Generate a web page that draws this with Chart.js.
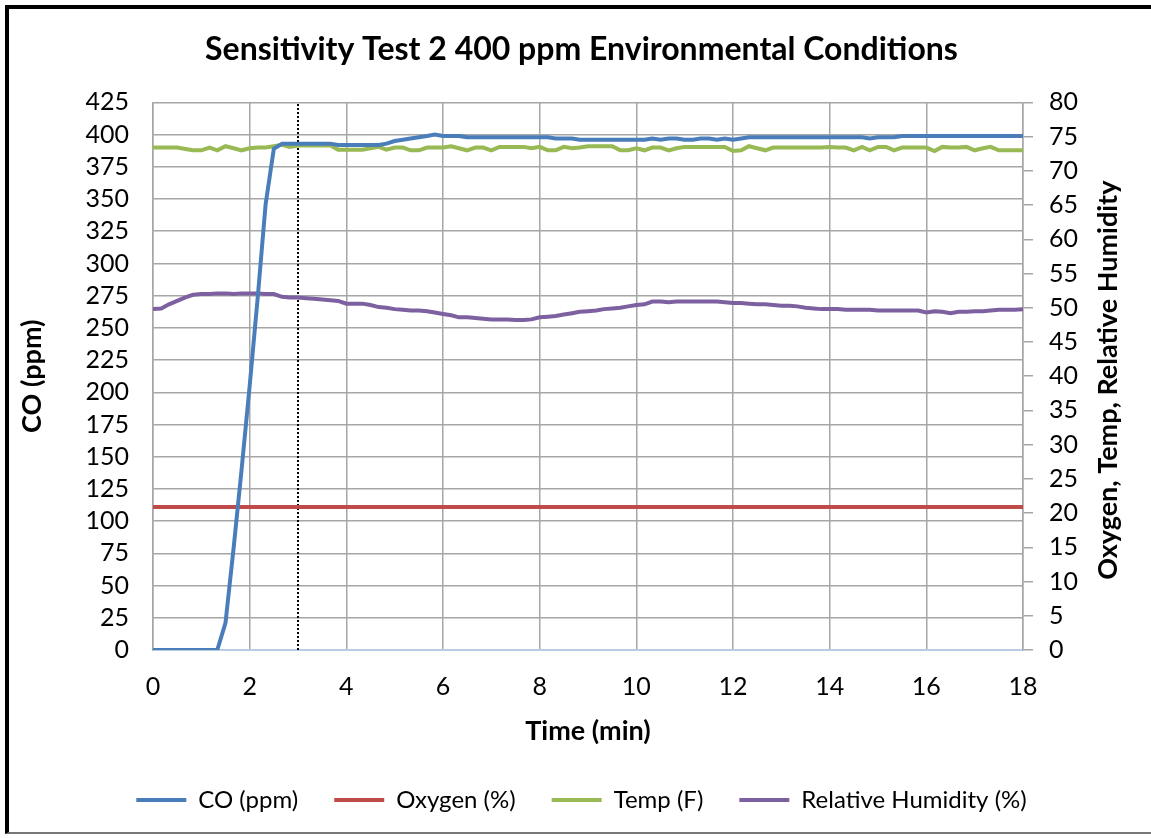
<!DOCTYPE html>
<html>
<head>
<meta charset="utf-8">
<script src="https://cdn.jsdelivr.net/npm/chart.js@4.4.1/dist/chart.umd.min.js"></script>
<style>
  html, body { margin: 0; padding: 0; background: #fff; }
  #wrap { position: absolute; left: 0; top: 0; width: 1151px; height: 838px; }
  #frame { position: absolute; left: 5px; top: 5px; width: 1146px; height: 829px;
           border-left: 4px solid #000; border-top: 4px solid #000; border-bottom: 2px solid #777;
           box-sizing: border-box; pointer-events: none; }
</style>
</head>
<body>
<div id="wrap"><canvas id="my-canvas" width="1151" height="838"></canvas></div>
<div id="frame"></div>
<script>
// time in minutes, one reading every 10 s
const timeMin = [
  0, 0.17, 0.33, 0.5, 0.67, 0.83,
  1, 1.17, 1.33, 1.5, 1.67, 1.83,
  2, 2.17, 2.33, 2.5, 2.67, 2.83,
  3, 3.17, 3.33, 3.5, 3.67, 3.83,
  4, 4.17, 4.33, 4.5, 4.67, 4.83,
  5, 5.17, 5.33, 5.5, 5.67, 5.83,
  6, 6.17, 6.33, 6.5, 6.67, 6.83,
  7, 7.17, 7.33, 7.5, 7.67, 7.83,
  8, 8.17, 8.33, 8.5, 8.67, 8.83,
  9, 9.17, 9.33, 9.5, 9.67, 9.83,
  10, 10.17, 10.33, 10.5, 10.67, 10.83,
  11, 11.17, 11.33, 11.5, 11.67, 11.83,
  12, 12.17, 12.33, 12.5, 12.67, 12.83,
  13, 13.17, 13.33, 13.5, 13.67, 13.83,
  14, 14.17, 14.33, 14.5, 14.67, 14.83,
  15, 15.17, 15.33, 15.5, 15.67, 15.83,
  16, 16.17, 16.33, 16.5, 16.67, 16.83,
  17, 17.17, 17.33, 17.5, 17.67, 17.83,
  18
]

// CO (ppm) - left axis
const coPpm = [
  0, 0, 0, 0, 0, 0,
  0, 0, 0, 21, 80, 139,
  205, 275, 346, 389, 393, 393,
  393, 393, 393, 393, 393, 392,
  392, 392, 392, 392, 392, 393,
  395, 396, 397, 398, 399, 400,
  399, 399, 399, 398, 398, 398,
  398, 398, 398, 398, 398, 398,
  398, 398, 397, 397, 397, 396,
  396, 396, 396, 396, 396, 396,
  396, 396, 397, 396, 397, 397,
  396, 396, 397, 397, 396, 397,
  396, 397, 398, 398, 398, 398,
  398, 398, 398, 398, 398, 398,
  398, 398, 398, 398, 398, 397,
  398, 398, 398, 399, 399, 399,
  399, 399, 399, 399, 399, 399,
  399, 399, 399, 399, 399, 399,
  399
]

// Oxygen (%) - right axis
const oxygenPct = [
  20.9, 20.9, 20.9, 20.9, 20.9, 20.9,
  20.9, 20.9, 20.9, 20.9, 20.9, 20.9,
  20.9, 20.9, 20.9, 20.9, 20.9, 20.9,
  20.9, 20.9, 20.9, 20.9, 20.9, 20.9,
  20.9, 20.9, 20.9, 20.9, 20.9, 20.9,
  20.9, 20.9, 20.9, 20.9, 20.9, 20.9,
  20.9, 20.9, 20.9, 20.9, 20.9, 20.9,
  20.9, 20.9, 20.9, 20.9, 20.9, 20.9,
  20.9, 20.9, 20.9, 20.9, 20.9, 20.9,
  20.9, 20.9, 20.9, 20.9, 20.9, 20.9,
  20.9, 20.9, 20.9, 20.9, 20.9, 20.9,
  20.9, 20.9, 20.9, 20.9, 20.9, 20.9,
  20.9, 20.9, 20.9, 20.9, 20.9, 20.9,
  20.9, 20.9, 20.9, 20.9, 20.9, 20.9,
  20.9, 20.9, 20.9, 20.9, 20.9, 20.9,
  20.9, 20.9, 20.9, 20.9, 20.9, 20.9,
  20.9, 20.9, 20.9, 20.9, 20.9, 20.9,
  20.9, 20.9, 20.9, 20.9, 20.9, 20.9,
  20.9
]

// Temp (F) - right axis
const tempF = [
  73.4, 73.4, 73.4, 73.4, 73.2, 73.0,
  73.0, 73.4, 73.0, 73.6, 73.3, 73.0,
  73.3, 73.4, 73.4, 73.6, 73.8, 73.5,
  73.7, 73.7, 73.7, 73.7, 73.7, 73.1,
  73.1, 73.1, 73.1, 73.3, 73.5, 73.1,
  73.4, 73.4, 73.0, 73.0, 73.4, 73.4,
  73.4, 73.6, 73.3, 73.0, 73.4, 73.4,
  73.0, 73.5, 73.5, 73.5, 73.5, 73.3,
  73.5, 73.0, 73.0, 73.5, 73.3, 73.4,
  73.6, 73.6, 73.6, 73.6, 73.0, 73.0,
  73.3, 73.0, 73.4, 73.4, 73.0, 73.3,
  73.5, 73.5, 73.5, 73.5, 73.5, 73.5,
  72.9, 73.0, 73.6, 73.3, 73.0, 73.4,
  73.4, 73.4, 73.4, 73.4, 73.4, 73.4,
  73.5, 73.4, 73.4, 73.0, 73.5, 73.0,
  73.5, 73.5, 73.0, 73.4, 73.4, 73.4,
  73.4, 72.9, 73.5, 73.4, 73.4, 73.5,
  73.0, 73.3, 73.5, 73.0, 73.0, 73.0,
  73.0
]

// Relative Humidity (%) - right axis
const humidityPct = [
  49.8, 49.9, 50.5, 51.0, 51.5, 51.9,
  52.0, 52.0, 52.1, 52.1, 52.0, 52.1,
  52.1, 52.1, 52.0, 52.0, 51.6, 51.5,
  51.5, 51.4, 51.3, 51.2, 51.1, 51.0,
  50.6, 50.6, 50.6, 50.4, 50.1, 50.0,
  49.8, 49.7, 49.6, 49.6, 49.5, 49.3,
  49.1, 48.9, 48.6, 48.6, 48.5, 48.4,
  48.3, 48.3, 48.3, 48.2, 48.2, 48.3,
  48.6, 48.7, 48.8, 49.0, 49.2, 49.4,
  49.5, 49.6, 49.8, 49.9, 50.0, 50.2,
  50.4, 50.5, 50.9, 50.9, 50.8, 50.9,
  50.9, 50.9, 50.9, 50.9, 50.9, 50.8,
  50.7, 50.7, 50.6, 50.5, 50.5, 50.4,
  50.3, 50.3, 50.2, 50.0, 49.9, 49.8,
  49.8, 49.8, 49.7, 49.7, 49.7, 49.7,
  49.6, 49.6, 49.6, 49.6, 49.6, 49.6,
  49.3, 49.5, 49.4, 49.2, 49.4, 49.4,
  49.5, 49.5, 49.6, 49.7, 49.7, 49.7,
  49.8
]

// dotted marker at 3 min
const markerTime = 3
const coRange = [0, 425]
const rightRange = [0, 80]

const FONT = 'Lato, "Noto Sans", sans-serif'

function toPoints(xs, ys){
  return xs.map((x, i) => ({x: x, y: ys[i]}))
}

// right axis title reads bottom to top
const rightTitle = {
  id: 'rightTitle',
  afterDraw(chart){
    const ctx = chart.ctx
    const area = chart.chartArea
    ctx.save()
    ctx.translate(1108, (area.top + area.bottom) / 2 + 4)
    ctx.rotate(-Math.PI / 2)
    ctx.font = 'bold 27px ' + FONT
    ctx.fillStyle = '#000'
    ctx.textAlign = 'center'
    ctx.textBaseline = 'middle'
    ctx.fillText('Oxygen, Temp, Relative Humidity', 0, 0)
    ctx.restore()
  }
}

const ctx = document.getElementById('my-canvas').getContext('2d')
const chart = new Chart(ctx, {
  type: 'line',
  data: {
    datasets: [
      { label: 'CO (ppm)', data: toPoints(timeMin, coPpm), yAxisID: 'y',
        borderColor: '#4a7ebb', backgroundColor: '#4a7ebb', borderWidth: 4 },
      { label: 'Oxygen (%)', data: toPoints(timeMin, oxygenPct), yAxisID: 'y2',
        borderColor: '#be4b48', backgroundColor: '#be4b48', borderWidth: 4 },
      { label: 'Temp (F)', data: toPoints(timeMin, tempF), yAxisID: 'y2',
        borderColor: '#98b954', backgroundColor: '#98b954', borderWidth: 4 },
      { label: 'Relative Humidity (%)', data: toPoints(timeMin, humidityPct), yAxisID: 'y2',
        borderColor: '#7d60a0', backgroundColor: '#7d60a0', borderWidth: 4 },
      { label: 'marker', data: [{x: markerTime, y: coRange[0]}, {x: markerTime, y: coRange[1]}], yAxisID: 'y',
        borderColor: '#000', borderWidth: 2, borderDash: [2, 2] }
    ]
  },
  options: {
    responsive: false,
    animation: false,
    elements: { point: { radius: 0 }, line: { tension: 0 } },
    layout: { padding: { left: 16, right: 4, top: 22, bottom: 16 } },
    plugins: {
      title: {
        display: true,
        text: 'Sensitivity Test 2 400 ppm Environmental Conditions',
        color: '#000',
        font: { family: FONT, size: 32, weight: 'bold' },
        padding: { top: 8, bottom: 34 }
      },
      legend: {
        position: 'bottom',
        labels: {
          filter: item => item.text !== 'marker',
          usePointStyle: true,
          pointStyle: 'line',
          pointStyleWidth: 50,
          boxWidth: 50,
          padding: 36,
          color: '#000',
          font: { family: FONT, size: 24 }
        }
      },
      tooltip: { enabled: false }
    },
    scales: {
      x: {
        type: 'linear', min: 0, max: 18,
        ticks: { stepSize: 2, autoSkip: false, color: '#000', font: { family: FONT, size: 25 }, padding: 22 },
        grid: { color: '#a6a6a6', lineWidth: 1.5, tickLength: 0 },
        border: { color: '#b9cde5', width: 2 },
        title: { display: true, text: 'Time (min)', color: '#000',
                 font: { family: FONT, size: 27, weight: 'bold' }, padding: { top: 0, bottom: 5 } },
        afterFit(scale){ scale.height = 102 }
      },
      y: {
        position: 'left', min: coRange[0], max: coRange[1],
        ticks: { stepSize: 25, autoSkip: false, color: '#000', font: { family: FONT, size: 25 }, padding: 24 },
        grid: { color: '#a6a6a6', lineWidth: 1.5, tickLength: 0 },
        border: { color: '#a6a6a6', width: 1.5 },
        title: { display: true, text: 'CO (ppm)', color: '#000',
                 font: { family: FONT, size: 27, weight: 'bold' }, padding: { top: 0, bottom: 0 } },
        afterFit(scale){ scale.width = 137 }
      },
      y2: {
        position: 'right', min: rightRange[0], max: rightRange[1],
        ticks: { stepSize: 5, autoSkip: false, color: '#000', font: { family: FONT, size: 25 }, padding: 16 },
        grid: { drawOnChartArea: false, color: '#a6a6a6', lineWidth: 1.5, tickLength: 10 },
        border: { color: '#a6a6a6', width: 1.5 },
        afterFit(scale){ scale.width = 124 }
      }
    }
  },
  plugins: [rightTitle]
})
</script>
</body>
</html>
